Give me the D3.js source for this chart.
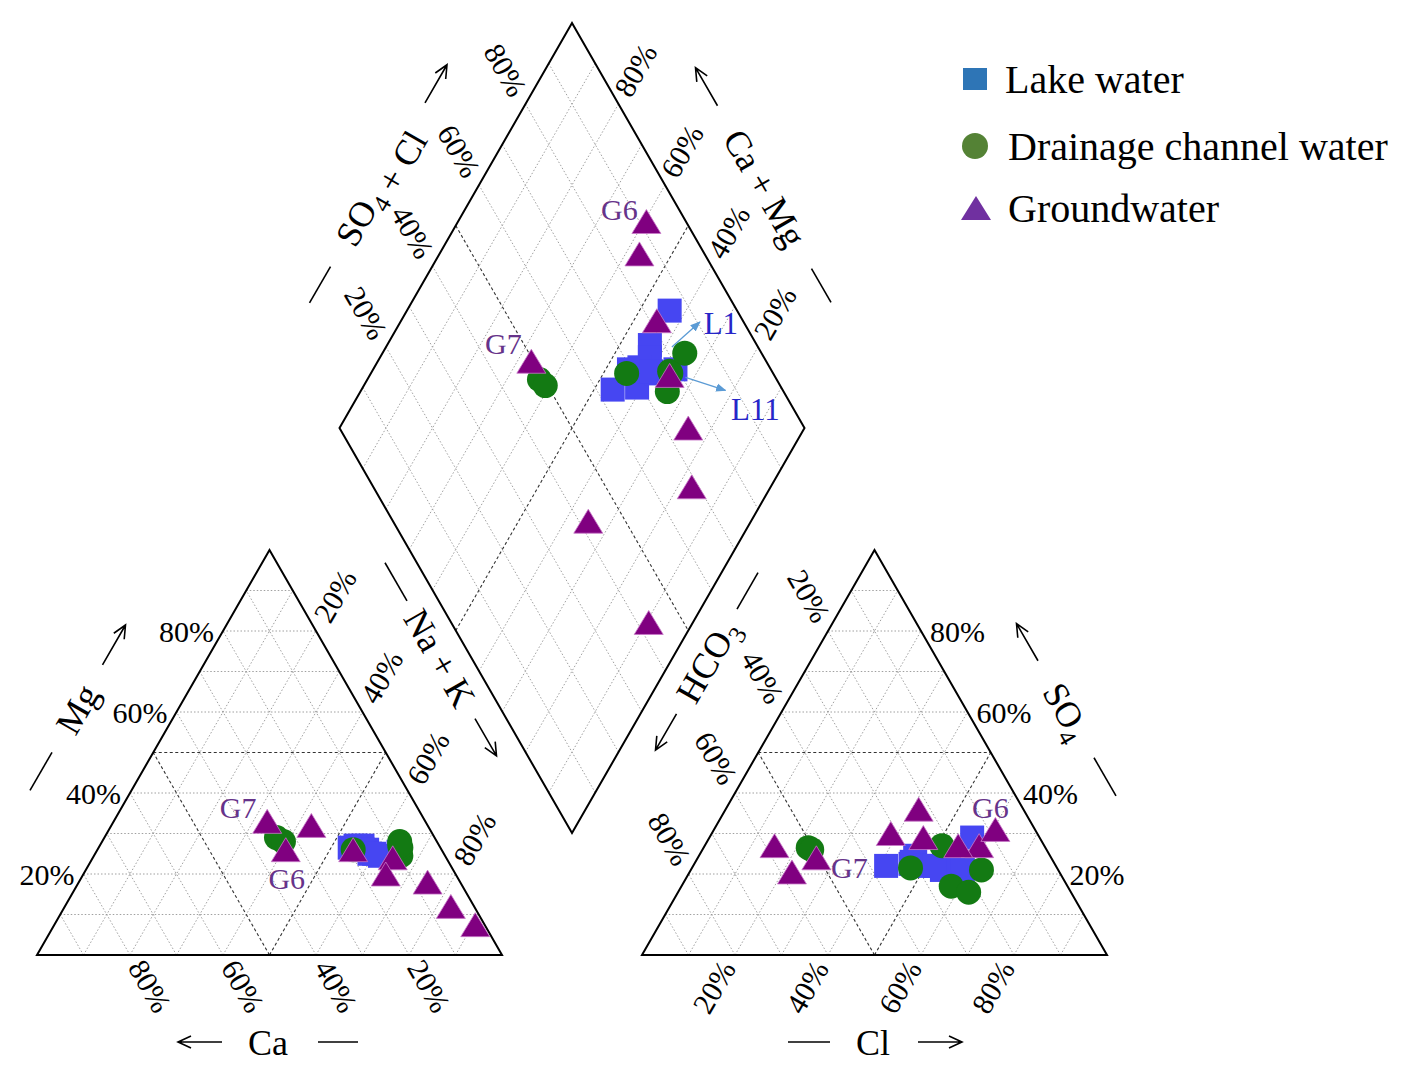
<!DOCTYPE html>
<html><head><meta charset="utf-8">
<script src="https://cdn.jsdelivr.net/npm/d3@7"></script>
<style>
body{margin:0;background:#fff}
text{font-family:"Liberation Serif","Times New Roman",serif;fill:#000}
</style>
</head><body>
<svg id="c" width="1413" height="1068"></svg>
<script>
// ---------------- DATA (percent of meq) ----------------
const tickValues = [0.2, 0.4, 0.6, 0.8];
const tickLabels = ["20%", "40%", "60%", "80%"];
const legendLabels = ["Lake water", "Drainage channel water", "Groundwater"];

const lakeNames = ["L1","L2","L3","L4","L5","L6","L7","L8","L9","L10","L11"];
const lakeCa    = [17, 16.5, 16, 18, 19.5, 16, 14, 17, 17, 15, 9.5];
const lakeMg    = [26.5, 27, 26, 27, 26.5, 25, 24.5, 26, 26, 25, 25.5];
const lakeNaK   = [56.5, 56.5, 58, 55, 54, 59, 61.5, 57, 57, 60, 65];
const lakeHCO3  = [23, 14.5, 24.5, 30.5, 36.5, 31, 25, 29, 28, 26, 20.5];
const lakeSO4   = [22, 29, 21.5, 23, 22, 22.5, 21, 24.5, 22, 22, 21];
const lakeCl    = [55, 56.5, 54, 46.5, 41.5, 46.5, 54, 46.5, 50, 52, 58.5];

const drainNames = ["D1","D2","D3","D4","D5","D6","D7"];
const drainCa    = [34, 33, 19, 8, 9.5, 8.5, 8.5];
const drainMg    = [29, 28, 26, 28, 24.5, 26.5, 27];
const drainNaK   = [37, 39, 55, 64, 66, 65, 64.5];
const drainHCO3  = [51, 50.5, 31.5, 22, 25, 16.5, 22];
const drainSO4   = [26.5, 26, 21.5, 27, 17, 21, 15.5];
const drainCl    = [22.5, 23.5, 47, 51, 58, 62.5, 62.5];

const gwNames = ["G1","G2","G3","G4","G5","G6","G7","G8","G9"];
const gwCa    = [25, 19, 11.5, 7, 5, 33.5, 34, 15, 2];
const gwMg    = [32, 26, 24, 18, 12, 26, 33, 20, 7.5];
const gwNaK   = [43, 55, 64.5, 75, 83, 40.5, 33, 65, 90.5];
const gwHCO3  = [14, 18.5, 22.5, 25, 31.5, 8.5, 50.5, 58, 57.5];
const gwSO4   = [27, 27, 36, 29, 30, 31, 24, 27, 20.5];
const gwCl    = [59, 54.5, 41.5, 46, 38.5, 60.5, 25.5, 15, 22];

// ---------------- GEOMETRY / SCALES ----------------
const svg = d3.select("#c");
const W = 465, H = 405, base = 955;
const catX0 = 37, anX0 = 642;
const gap = anX0 - (catX0 + W);
const catX = d3.scaleLinear().domain([0, 1]).range([catX0, catX0 + W]);
const anX  = d3.scaleLinear().domain([0, 1]).range([anX0, anX0 + W]);
const triY = d3.scaleLinear().domain([0, 1]).range([base, base - H]);
const dBottomY = base - H * gap / W;
const dCx = catX0 + W + gap / 2;
const dLeftX = dCx - W / 2, dMidY = dBottomY - H;
const diaX = d3.scaleLinear().domain([0, 2]).range([dLeftX, dLeftX + W]);
const diaY = d3.scaleLinear().domain([-1, 1]).range([dMidY - H, dMidY + H]);

const catPt = (mg, nak) => [catX(nak + mg / 2), triY(mg)];
const anPt  = (so4, cl) => [anX(cl + so4 / 2), triY(so4)];
const diaPt = (nak, an) => [diaX(nak + an), diaY(nak - an)];

const line = d3.line();
const gGrid = svg.append("g");

function gridLine(p, q, major) {
  gGrid.append("path").attr("d", line([p, q]))
    .attr("fill", "none")
    .attr("stroke", major ? "#333" : "#959595")
    .attr("stroke-width", major ? 1.1 : 0.9)
    .attr("stroke-dasharray", major ? "3,2.5" : "1.5,2");
}
const steps = d3.range(1, 10).map(k => k / 10);
steps.forEach(f => {
  const major = Math.abs(f - 0.5) < 1e-9;
  // cation triangle
  gridLine(catPt(f, 0), catPt(f, 1 - f), major);
  gridLine(catPt(0, f), catPt(1 - f, f), major);
  gridLine(catPt(0, 1 - f), catPt(1 - f, 0), major);
  // anion triangle
  gridLine(anPt(f, 0), anPt(f, 1 - f), major);
  gridLine(anPt(0, f), anPt(1 - f, f), major);
  gridLine(anPt(0, 1 - f), anPt(1 - f, 0), major);
  // diamond
  gridLine(diaPt(0, f), diaPt(1, f), major);
  gridLine(diaPt(f, 0), diaPt(f, 1), major);
});

// outlines
const gOut = svg.append("g").attr("fill", "none").attr("stroke", "#000").attr("stroke-width", 2).attr("stroke-linejoin", "miter");
gOut.append("path").attr("d", line([catPt(0,0), catPt(0,1), catPt(1,0)]) + "Z");
gOut.append("path").attr("d", line([anPt(0,0), anPt(0,1), anPt(1,0)]) + "Z");
gOut.append("path").attr("d", line([diaPt(0,0), diaPt(0,1), diaPt(1,1), diaPt(1,0)]) + "Z");

// ---------------- TICK LABELS ----------------
const gTick = svg.append("g").style("font-size", "30px");
function rotLabel(p, dx, dy, ang, txt) {
  gTick.append("text")
    .attr("transform", `translate(${p[0] + dx},${p[1] + dy}) rotate(${ang})`)
    .attr("text-anchor", "middle").attr("dy", "0.35em").text(txt);
}
tickValues.forEach((f, i) => {
  const t = tickLabels[i];
  // cation: Mg on left edge
  const pm = catPt(f, 0);
  gTick.append("text").attr("x", pm[0] - 9).attr("y", pm[1]).attr("dy", "0.35em")
    .attr("text-anchor", "end").text(t);
  // cation: Ca on base
  rotLabel(catPt(0, 1 - f), 20, 31, 60, t);
  // cation: Na+K on right edge
  rotLabel(catPt(1 - f, f), 19, -35, -60, t);
  // anion: HCO3 on left edge
  rotLabel(anPt(1 - f, 0), -19, -35, 60, t);
  // anion: Cl on base
  rotLabel(anPt(0, f), -21, 32, -60, t);
  // anion: SO4 on right edge
  const ps = anPt(f, 1 - f);
  gTick.append("text").attr("x", ps[0] + 9).attr("y", ps[1]).attr("dy", "0.35em")
    .attr("text-anchor", "start").text(t);
  // diamond: SO4+Cl on upper-left edge
  rotLabel(diaPt(0, f), -20, -34, 60, t);
  // diamond: Ca+Mg on upper-right edge
  rotLabel(diaPt(1 - f, 1), 17, -34, -60, t);
});

// ---------------- AXIS TITLES ----------------
const gTitle = svg.append("g");
function axisTitle(cx, cy, ang, parts, dash, arrow) {
  const g = gTitle.append("g").attr("transform", `translate(${cx},${cy}) rotate(${ang})`);
  const t = g.append("text").attr("text-anchor", "middle").attr("dy", "0.35em").style("font-size", "36px");
  parts.forEach(p => {
    if (p.sub) {
      t.append("tspan").attr("dy", 9).style("font-size", "25px").text(p.s);
      t.append("tspan").attr("dy", -9).text("");
    } else t.append("tspan").text(p.s);
  });
  g.append("line").attr("x1", dash[0]).attr("x2", dash[1]).attr("y1", 0).attr("y2", 0)
    .attr("stroke", "#000").attr("stroke-width", 1.6);
  const [a0, a1] = arrow, dir = Math.sign(a1 - a0);
  g.append("path").attr("d", `M${a0},0L${a1},0M${a1 - dir * 13},-6L${a1},0L${a1 - dir * 13},6`)
    .attr("fill", "none").attr("stroke", "#000").attr("stroke-width", 1.6);
}
axisTitle(77, 709, -60, [{s: "Mg"}], [-94, -50], [51, 97]);
axisTitle(268, 1042, 0, [{s: "Ca"}], [50, 90], [-46, -90]);
axisTitle(440, 658, 60, [{s: "Na + K"}], [-110, -66], [70, 113]);
axisTitle(377, 186, -60, [{s: "SO"}, {s: "4", sub: true}, {s: " + Cl"}], [-135, -93], [96, 140]);
axisTitle(765, 188, 60, [{s: "Ca + Mg"}], [93, 132], [-95, -139]);
axisTitle(707, 661, -60, [{s: "HCO"}, {s: "3", sub: true}], [60, 102], [-61, -103]);
axisTitle(1067, 711, 60, [{s: "SO"}, {s: "4", sub: true}], [54, 98], [-58, -101]);
axisTitle(873, 1042, 0, [{s: "Cl"}], [-85, -43], [45, 89]);

// ---------------- SAMPLES ----------------
function build(names, ca, mg, nak, hco3, so4, cl) {
  return names.map((name, i) => {
    const c = {mg: mg[i] / 100, nak: nak[i] / 100};
    const a = {so4: so4[i] / 100, cl: cl[i] / 100};
    return {
      name,
      cat: catPt(c.mg, c.nak),
      an: anPt(a.so4, a.cl),
      dia: diaPt(c.nak, a.so4 + a.cl)
    };
  });
}
const lake  = build(lakeNames, lakeCa, lakeMg, lakeNaK, lakeHCO3, lakeSO4, lakeCl);
const drain = build(drainNames, drainCa, drainMg, drainNaK, drainHCO3, drainSO4, drainCl);
const gw    = build(gwNames, gwCa, gwMg, gwNaK, gwHCO3, gwSO4, gwCl);
const allPts = d => [d.cat, d.an, d.dia];

const sq = 24, cr = 12.5, tw = 29, th = 24;
const triPath = `M0,${-th/2}L${tw/2},${th/2}L${-tw/2},${th/2}Z`;

const gPts = svg.append("g");
lake.forEach(d => allPts(d).forEach(p => {
  gPts.append("rect").attr("x", p[0] - sq/2).attr("y", p[1] - sq/2).attr("width", sq).attr("height", sq)
    .attr("fill", "#4646f2");
}));
drain.forEach(d => allPts(d).forEach(p => {
  gPts.append("circle").attr("cx", p[0]).attr("cy", p[1]).attr("r", cr).attr("fill", "#137a13");
}));
gw.forEach(d => allPts(d).forEach(p => {
  gPts.append("path").attr("d", triPath).attr("transform", `translate(${p[0]},${p[1]})`)
    .attr("fill", "#800080").attr("stroke", "#c878c8").attr("stroke-width", 0.8);
}));

// ---------------- ANNOTATIONS ----------------
const gAnn = svg.append("g");
const gwNote = [
  {name: "G6", key: "cat", dx: 1, dy: 29}, {name: "G7", key: "cat", dx: -29, dy: -14},
  {name: "G6", key: "an", dx: -5, dy: -22}, {name: "G7", key: "an", dx: 33, dy: 10},
  {name: "G6", key: "dia", dx: -27, dy: -12}, {name: "G7", key: "dia", dx: -28, dy: -18}
];
gwNote.forEach(n => {
  const p = gw.find(d => d.name === n.name)[n.key];
  gAnn.append("text").attr("x", p[0] + n.dx).attr("y", p[1] + n.dy).attr("dy", "0.35em")
    .attr("text-anchor", "middle").style("font-size", "30px").style("fill", "#66338a").text(n.name);
});
const defs = svg.append("defs");
defs.append("marker").attr("id", "ah").attr("viewBox", "0 0 10 10").attr("refX", 9).attr("refY", 5)
  .attr("markerWidth", 8).attr("markerHeight", 8).attr("orient", "auto")
  .append("path").attr("d", "M0,1L10,5L0,9Z").attr("fill", "#5b9bd5");
const lakeNote = [
  {name: "L1", a: [22, 2], b: [50, -23], t: [71, -22]},
  {name: "L11", a: [10, 8], b: [50, 21], t: [80, 40]}
];
lakeNote.forEach(n => {
  const p = lake.find(d => d.name === n.name).dia;
  gAnn.append("line").attr("x1", p[0] + n.a[0]).attr("y1", p[1] + n.a[1])
    .attr("x2", p[0] + n.b[0]).attr("y2", p[1] + n.b[1])
    .attr("stroke", "#5b9bd5").attr("stroke-width", 1.3).attr("marker-end", "url(#ah)");
  gAnn.append("text").attr("x", p[0] + n.t[0]).attr("y", p[1] + n.t[1]).attr("dy", "0.35em")
    .attr("text-anchor", "middle").style("font-size", "31px").style("fill", "#2626c8").text(n.name);
});

// ---------------- LEGEND ----------------
const gLeg = svg.append("g").attr("transform", "translate(975,0)");
const legY = [79, 146, 208];
gLeg.append("rect").attr("x", -12).attr("y", legY[0] - 11).attr("width", 24).attr("height", 22).attr("fill", "#2e75b6");
gLeg.append("circle").attr("cx", 0).attr("cy", legY[1]).attr("r", 13).attr("fill", "#548235");
gLeg.append("path").attr("d", "M1,-12L16,12L-14,12Z").attr("transform", `translate(0,${legY[2]})`).attr("fill", "#7030a0");
legendLabels.forEach((l, i) => {
  gLeg.append("text").attr("x", i === 0 ? 30 : 33).attr("y", legY[i]).attr("dy", "0.35em")
    .style("font-size", "40px").text(l);
});
</script>
</body></html>
